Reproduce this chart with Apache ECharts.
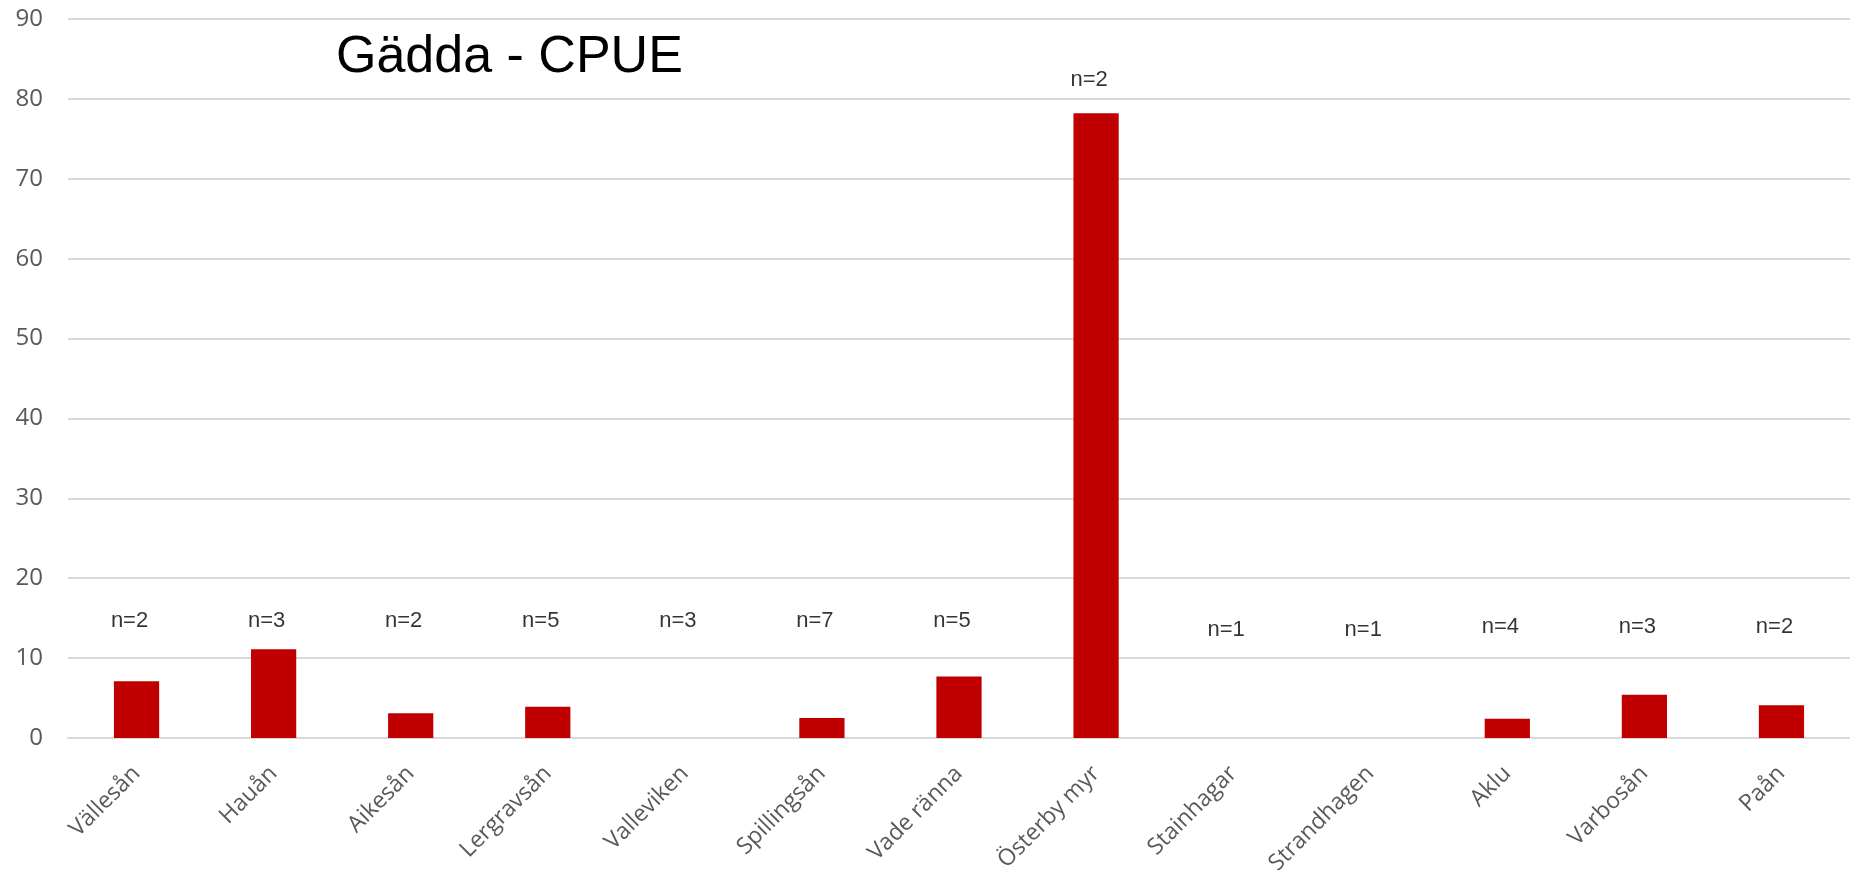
<!DOCTYPE html>
<html>
<head>
<meta charset="utf-8">
<script src="https://cdn.jsdelivr.net/npm/echarts@6/dist/echarts.min.js"></script>
<style>
html,body{margin:0;padding:0;background:#fff;}
#chart{width:1850px;height:870px;}
</style>
</head>
<body>
<div id="chart"></div>
<script>
const titleText = 'Gädda - CPUE';
const categories = ['Vällesån','Hauån','Aikesån','Lergravsån','Valleviken','Spillingsån','Vade ränna','Österby myr','Stainhagar','Strandhagen','Aklu','Varbosån','Paån'];
const cpueValues = [7.1, 11.1, 3.1, 3.9, 0, 2.5, 7.7, 78.2, 0, 0, 2.4, 5.4, 4.1];
const sampleLabels = ['n=2','n=3','n=2','n=5','n=3','n=7','n=5','n=2','n=1','n=1','n=4','n=3','n=2'];
const sampleLabelHeights = [14.6, 14.6, 14.6, 14.6, 14.6, 14.6, 14.6, 82.4, 13.5, 13.5, 13.85, 13.85, 13.85];
const yTicks = [0, 10, 20, 30, 40, 50, 60, 70, 80, 90];

const chart = echarts.init(document.getElementById('chart'), null, {renderer: 'canvas'});
chart.setOption({
  backgroundColor: '#ffffff',
  animation: false,
  title: {
    text: titleText,
    left: 331,
    top: 27,
    textStyle: {fontFamily: 'Liberation Sans, Arial, sans-serif', fontSize: 52, fontWeight: 'normal', color: '#000000'}
  },
  grid: {left: 68, right: 0, top: 19, bottom: 132, containLabel: false, outerBoundsMode: 'none'},
  xAxis: {
    type: 'category',
    data: categories,
    axisTick: {show: false},
    axisLine: {show: true, lineStyle: {color: '#d9d9d9', width: 2}},
    axisLabel: {
      rotate: 45,
      margin: 32,
      interval: 0,
      color: '#595959',
      fontFamily: 'Open Sans, sans-serif',
      fontSize: 23
    }
  },
  yAxis: {
    type: 'value',
    min: yTicks[0],
    max: yTicks[yTicks.length - 1],
    interval: yTicks[1] - yTicks[0],
    axisLine: {show: false},
    axisTick: {show: false},
    splitLine: {lineStyle: {color: '#d9d9d9', width: 2}},
    axisLabel: {
      margin: 25,
      color: '#595959',
      fontFamily: 'Open Sans, sans-serif',
      fontSize: 24
    }
  },
  series: [
    {
      type: 'bar',
      data: cpueValues,
      barWidth: '33%',
      itemStyle: {color: '#C00000'}
    },
    {
      type: 'scatter',
      data: sampleLabelHeights.map((h, i) => [categories[i], h, sampleLabels[i]]),
      symbolSize: 0,
      silent: true,
      label: {
        show: true,
        position: 'inside',
        offset: [-7, 0],
        formatter: p => p.data[2],
        color: '#000000',
        fontFamily: 'Liberation Sans, Arial, sans-serif',
        fontSize: 22
      }
    }
  ]
});
</script>
</body>
</html>
